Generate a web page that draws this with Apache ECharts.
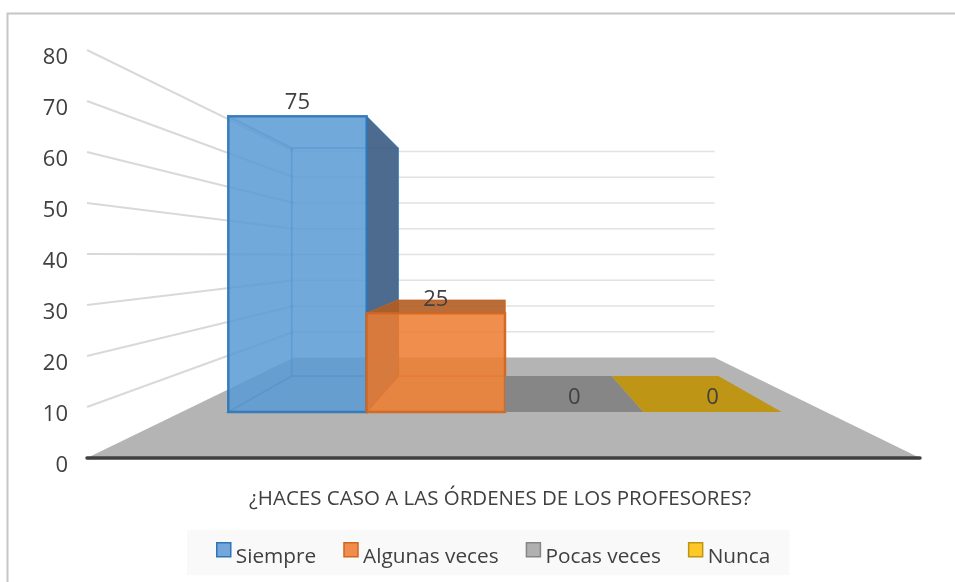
<!DOCTYPE html>
<html>
<head>
<meta charset="utf-8">
<style>
  html, body { margin: 0; padding: 0; background: #fff; }
  #chart { width: 955px; height: 582px; }
</style>
<script src="https://cdn.jsdelivr.net/npm/echarts@6/dist/echarts.min.js"></script>
</head>
<body>
<div id="chart"></div>
<script>
const categories = ['Siempre', 'Algunas veces', 'Pocas veces', 'Nunca']
const values = [75, 25, 0, 0]
const yTicks = [0, 10, 20, 30, 40, 50, 60, 70, 80]
const axisTitle = '¿HACES CASO A LAS ÓRDENES DE LOS PROFESORES?'

// fake 3D: every point is read on the front plane through the axes, then pulled to the vanishing point
const VP = [505, 255]
const WALL = 0.505 // depth of back wall
const BAR_FRONT = 0.773
const BAR_BACK = 0.596
const FLOOR_LEFT = 87
const FLOOR_RIGHT = 920

const palette = [
  { fill: 'rgba(91,155,213,0.63)', top: 'rgba(91,155,213,0.63)', side: 'rgba(70,100,135,0.92)', line: '#2E75B6', legend: '#73A7DB' },
  { fill: 'rgba(237,125,49,0.63)', top: 'rgba(165,85,30,0.72)', side: 'rgba(190,100,40,0.5)', line: '#D0661F', legend: '#F08C4C' },
  { fill: 'rgba(165,165,165,0.63)', top: '#868686', side: '#868686', line: '#868686', legend: '#B0B0B0' },
  { fill: 'rgba(255,192,0,0.63)', top: '#BF9516', side: '#BF9516', line: '#BF9516', legend: '#FFC827' }
]

function depth(p, s) {
  return [VP[0] + (p[0] - VP[0]) * s, VP[1] + (p[1] - VP[1]) * s]
}

function face(points, fill, stroke, width) {
  return {
    type: 'polygon',
    shape: { points: points },
    style: { fill: fill, stroke: stroke || null, lineWidth: width || 0 }
  }
}

function renderFloor(params, api) {
  const y0 = api.coord([0, 0])[1]
  const a = [FLOOR_LEFT, y0]
  const b = [FLOOR_RIGHT, y0]
  return {
    type: 'group',
    children: [
      face([a, b, depth(b, WALL), depth(a, WALL)], '#B4B4B4'),
      {
        type: 'line',
        shape: { x1: a[0], y1: a[1], x2: b[0], y2: b[1] },
        style: { stroke: '#404040', lineWidth: 3.5, lineCap: 'round' }
      }
    ]
  }
}

function renderWall(params, api) {
  const y = api.coord([0, api.value(0)])[1]
  const a = depth([FLOOR_LEFT, y], 1)
  const b = depth([FLOOR_LEFT, y], WALL)
  const c = depth([FLOOR_RIGHT, y], WALL)
  return {
    type: 'group',
    children: [
      { type: 'line', shape: { x1: a[0], y1: a[1], x2: b[0], y2: b[1] }, style: { stroke: '#D9D9D9', lineWidth: 2 } },
      { type: 'line', shape: { x1: b[0], y1: b[1], x2: c[0], y2: c[1] }, style: { stroke: '#E2E2E2', lineWidth: 1.5 } }
    ]
  }
}

function renderBar(params, api) {
  const idx = api.value(0)
  const val = api.value(1)
  const c = palette[idx]
  const band = api.size([1, 0])[0]
  const mid = api.coord([idx, val])
  const base = api.coord([idx, 0])
  const l = mid[0] - band / 2
  const r = mid[0] + band / 2
  const top = mid[1]
  const bot = base[1]

  const fbl = depth([l, bot], BAR_FRONT)
  const fbr = depth([r, bot], BAR_FRONT)
  const ftl = depth([l, top], BAR_FRONT)
  const ftr = depth([r, top], BAR_FRONT)
  const bbl = depth([l, bot], BAR_BACK)
  const bbr = depth([r, bot], BAR_BACK)
  const btl = depth([l, top], BAR_BACK)
  const btr = depth([r, top], BAR_BACK)

  const children = []
  if (val > 0) {
    const inner = c.line + '55'
    children.push(face([fbl, fbr, bbr, bbl], c.fill, inner, 1.5)) // floor of the bar
    children.push(face([bbl, bbr, btr, btl], c.fill, inner, 1.5)) // back
    children.push(face([fbl, bbl, btl, ftl], c.fill, inner, 1.5)) // left
    children.push(face([ftl, ftr, btr, btl], c.top, inner, 1))
    children.push(face([fbr, bbr, btr, ftr], c.side, c.line + 'AA', 1))
    children.push(face([fbl, fbr, ftr, ftl], c.fill, c.line + 'DD', 2.5))
  } else {
    children.push(face([fbl, fbr, bbr, bbl], c.top))
  }
  children.push({
    type: 'text',
    style: {
      x: (ftl[0] + ftr[0]) / 2,
      y: ftl[1] - 14,
      text: String(val),
      fill: '#404040',
      font: '22px "Open Sans"',
      align: 'center',
      verticalAlign: 'middle'
    }
  })
  return { type: 'group', children: children }
}

const chart = echarts.init(document.getElementById('chart'))

chart.setOption({
  animation: false,
  backgroundColor: '#fff',
  textStyle: { fontFamily: '"Open Sans"' },
  grid: { left: 147, width: 716, top: 50, bottom: 124, containLabel: false },
  graphic: [
    // chart frame, cropped at right and bottom in the picture
    { type: 'polyline', silent: true, shape: { points: [[7.5, 582], [7.5, 13.5], [955, 13.5]] }, style: { fill: null, stroke: '#C6C6C6', lineWidth: 2 } }
  ],
  legend: {
    left: 187,
    top: 530,
    padding: [12, 19, 8, 29],
    backgroundColor: '#F9F9F9',
    itemWidth: 14,
    itemHeight: 14,
    itemGap: 27,
    selectedMode: false,
    formatter: '{a|{name}}',
    textStyle: {
      rich: {
        a: { fontSize: 20.8, color: '#404040', fontFamily: '"Open Sans"', padding: [14, 0, 0, 0] }
      }
    },
    data: categories.map((name, i) => ({
      name: name,
      icon: 'rect',
      itemStyle: { color: palette[i].legend, borderColor: palette[i].line, borderWidth: 1.5 }
    }))
  },
  xAxis: {
    type: 'category',
    data: categories,
    name: axisTitle,
    nameLocation: 'middle',
    nameGap: 31,
    nameTextStyle: { fontSize: 20.5, color: '#404040', padding: [0, 10, 0, 0] },
    axisLine: { show: false },
    axisTick: { show: false },
    axisLabel: { show: false }
  },
  yAxis: {
    type: 'value',
    min: 0,
    max: 80,
    interval: 10,
    splitLine: { show: false },
    axisLine: { show: false },
    axisTick: { show: false },
    axisLabel: { fontSize: 22, color: '#404040', margin: 79, verticalAlign: 'top', lineHeight: 16 }
  },
  series: [
    { type: 'custom', name: 'floor', silent: true, renderItem: renderFloor, data: [[0]], encode: { y: 0 } },
    { type: 'custom', name: 'walls', silent: true, renderItem: renderWall, data: yTicks.slice(1).map(v => [v]), encode: { y: 0 } }
  ].concat(categories.map((name, i) => ({
    type: 'custom',
    name: name,
    silent: true,
    renderItem: renderBar,
    itemStyle: { color: palette[i].legend },
    data: [[i, values[i]]],
    encode: { x: 0, y: 1 }
  })))
})
</script>
</body>
</html>
